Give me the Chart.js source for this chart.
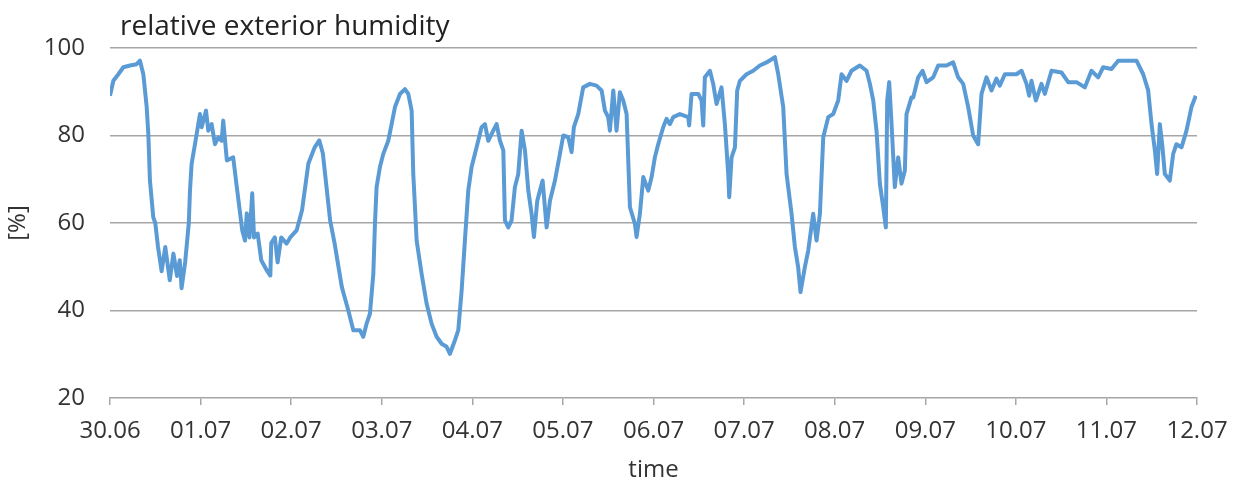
<!DOCTYPE html>
<html>
<head>
<meta charset="utf-8">
<script src="https://cdn.jsdelivr.net/npm/chart.js@4/dist/chart.umd.min.js"></script>
<style>
  html, body { margin: 0; padding: 0; background: #ffffff; }
  #wrap { width: 1244px; height: 489px; }
</style>
</head>
<body>
<div id="wrap"><canvas id="chart" width="1244" height="489"></canvas></div>
<script>
// Date labels for each day tick (day 0 = 30.06)
const dateLabels = ['30.06','01.07','02.07','03.07','04.07','05.07','06.07','07.07','08.07','09.07','10.07','11.07','12.07'];

// Measurement times, in days since 30.06 00:00
const dayOffsets = [
  0.000,0.037,0.092,0.147,0.221,0.294,0.331,0.368,0.405,0.423,0.441,0.478,0.500,0.530,0.570,0.610,0.660,0.700,0.740,0.770,
  0.790,0.830,0.870,0.883,0.901,0.938,0.975,0.993,1.012,1.060,1.085,1.122,1.159,1.196,1.233,1.250,1.270,1.290,1.360,1.400,
  1.460,1.490,1.510,1.540,1.570,1.590,1.630,1.670,1.730,1.770,1.780,1.820,1.850,1.890,1.950,1.990,2.060,2.120,2.190,2.260,
  2.310,2.350,2.430,2.480,2.560,2.631,2.686,2.759,2.796,2.833,
  2.870,2.907,2.925,2.943,2.980,3.017,3.072,3.109,3.146,3.201,3.256,3.293,3.330,3.348,3.367,3.385,3.440,3.495,3.550,3.606,
  3.661,3.716,3.753,3.808,3.845,3.882,3.918,3.955,3.992,4.047,4.102,4.139,4.176,4.231,4.268,4.305,4.342,4.360,4.397,4.433,
  4.470,4.507,4.544,4.581,4.618,4.654,4.680,4.717,4.746,4.776,4.820,4.857,4.912,4.967,5.004,5.059,5.096,5.121,5.169,5.224,
  5.298,5.371,5.427,5.464,5.500,5.519,5.556,5.592,5.629,5.666,5.703,5.740,5.795,5.813,5.850,
  5.887,5.942,5.979,6.015,6.052,6.107,6.144,6.181,6.218,6.291,6.383,6.394,6.420,6.494,6.531,6.549,6.567,6.623,6.659,6.696,
  6.751,6.788,6.825,6.836,6.862,6.899,6.924,6.954,7.027,7.101,7.174,7.248,7.340,7.377,7.432,7.469,7.524,7.561,7.597,7.623,
  7.671,7.708,7.763,7.800,7.837,7.874,7.929,7.984,8.039,8.076,8.131,8.186,8.278,8.352,8.389,8.426,8.462,8.499,8.536,8.565,
  8.580,8.602,8.628,8.664,8.701,8.738,8.775,8.793,8.848,
  8.867,8.922,8.970,9.014,9.088,9.143,9.235,9.308,9.363,9.419,9.474,9.529,9.584,9.621,9.676,9.731,9.786,9.823,9.879,10.007,
  10.063,10.118,10.147,10.173,10.221,10.283,10.320,10.394,10.504,10.578,10.670,10.762,10.835,10.909,10.964,11.056,11.130,11.332,11.406,11.461,
  11.498,11.535,11.560,11.590,11.619,11.645,11.700,11.737,11.773,11.829,11.884,11.939,11.987
];

// Relative exterior humidity [%]
const humidity = [
  89.1,92.5,94.0,95.6,96.0,96.3,97.1,94.0,86.5,80.4,69.7,61.3,60.0,54.5,49.0,54.5,46.9,53.0,47.9,51.5,
  45.1,51.1,60.0,67.4,73.5,78.0,82.6,84.9,81.9,85.7,81.1,82.6,78.0,79.6,78.8,83.4,78.9,74.3,75.0,68.2,
  58.3,56.0,62.2,56.7,66.8,56.7,57.6,51.5,49.2,48.0,55.4,56.7,51.0,56.7,55.3,56.7,58.3,62.9,73.6,77.3,
  78.9,75.9,60.6,55.3,45.3,40.0,35.5,35.5,34.0,37.0,
  39.3,48.4,59.8,68.2,72.8,75.8,78.8,82.6,86.5,89.5,90.6,89.5,85.7,71.2,63.6,56.0,48.4,41.6,37.0,34.0,
  32.4,31.7,30.1,33.2,35.5,44.6,56.0,67.4,72.8,77.3,81.9,82.6,78.8,81.1,82.6,78.8,76.6,60.6,59.0,60.6,
  68.2,71.2,81.1,76.6,67.4,62.1,56.8,65.1,67.4,69.7,59.0,65.1,69.7,75.8,80.0,79.6,76.2,81.9,84.9,91.0,
  91.8,91.4,90.3,85.7,84.2,81.1,90.3,81.1,89.9,88.0,84.9,63.6,59.8,56.8,62.1,
  70.5,67.4,70.5,75.0,78.0,81.9,83.8,82.6,84.2,84.9,84.2,82.3,89.5,89.5,88.0,82.3,93.3,94.8,91.8,87.2,
  91.0,82.6,71.2,65.9,75.0,77.3,90.3,92.5,94.0,94.8,96.0,96.7,97.9,94.0,86.5,71.2,62.1,54.5,49.9,44.2,
  49.9,53.7,62.1,56.0,62.1,79.6,84.2,84.9,88.0,94.0,92.5,94.8,96.0,94.8,91.8,88.0,81.1,69.0,63.6,59.0,
  88.0,92.2,82.6,68.2,75.0,69.0,72.0,84.9,88.7,
  88.7,93.3,94.8,92.2,93.3,96.0,96.0,96.7,93.3,91.8,86.5,80.0,78.0,89.5,93.3,90.3,93.0,91.4,94.0,94.0,
  94.8,91.8,89.1,92.5,88.0,91.8,89.5,94.8,94.4,92.2,92.2,91.0,94.8,93.3,95.6,95.2,97.1,97.1,94.0,90.3,
  82.6,76.6,71.2,82.6,77.3,71.2,69.7,75.8,78.0,77.3,81.1,86.5,89.1
];

// Value axis tick positions
const humidityTicks = [20, 40, 60, 80, 100];

const textColor = '#333333';
const gridColor = '#a6a6a6';
const fontFamily = '"Open Sans", "Noto Sans", sans-serif';
const tickFont = { family: fontFamily, size: 24 };

const points = dayOffsets.map((d, i) => ({ x: d, y: humidity[i] }));

// Chart heading drawn in the top-left corner
const headingPlugin = {
  id: 'heading',
  afterDraw(chart) {
    const ctx = chart.ctx;
    ctx.save();
    ctx.fillStyle = '#222222';
    ctx.font = '28px ' + fontFamily;
    ctx.textAlign = 'left';
    ctx.textBaseline = 'alphabetic';
    ctx.fillText('relative exterior humidity', 120, 35);
    ctx.restore();
  }
};

new Chart(document.getElementById('chart'), {
  type: 'scatter',
  data: {
    datasets: [{
      data: points,
      showLine: true,
      borderColor: '#5B9BD5',
      backgroundColor: '#5B9BD5',
      borderWidth: 4,
      borderJoinStyle: 'round',
      pointRadius: 0,
      tension: 0,
      fill: false
    }]
  },
  options: {
    responsive: false,
    animation: false,
    layout: { padding: { left: 0, right: 47, top: 48, bottom: 0 } },
    plugins: {
      legend: { display: false },
      tooltip: { enabled: false }
    },
    scales: {
      x: {
        type: 'linear',
        min: 0,
        max: dateLabels.length - 1,
        afterBuildTicks: (scale) => {
          scale.ticks = dateLabels.map((_, i) => ({ value: i }));
        },
        afterFit: (scale) => { scale.height = 91; },
        ticks: {
          autoSkip: false,
          maxRotation: 0,
          padding: 12,
          color: textColor,
          font: tickFont,
          callback: (v) => dateLabels[v]
        },
        grid: {
          drawOnChartArea: false,
          drawTicks: true,
          tickLength: 7,
          color: gridColor,
          lineWidth: 1.5
        },
        border: { display: true, color: gridColor, width: 1.5 },
        title: {
          display: true,
          text: 'time',
          color: textColor,
          font: tickFont,
          padding: { top: 0, bottom: 4 }
        }
      },
      y: {
        type: 'linear',
        min: humidityTicks[0],
        max: humidityTicks[humidityTicks.length - 1],
        afterBuildTicks: (scale) => {
          scale.ticks = humidityTicks.map(v => ({ value: v }));
        },
        afterFit: (scale) => { scale.width = 110; },
        ticks: {
          padding: 25,
          color: textColor,
          font: tickFont
        },
        grid: {
          drawTicks: false,
          color: gridColor,
          lineWidth: (c) => (c.tick && c.tick.value === humidityTicks[0]) ? 0 : 1.5
        },
        border: { display: false },
        title: {
          display: true,
          text: '[%]',
          color: textColor,
          font: tickFont,
          padding: { top: 4, bottom: 4 }
        }
      }
    }
  },
  plugins: [headingPlugin]
});
</script>
</body>
</html>
